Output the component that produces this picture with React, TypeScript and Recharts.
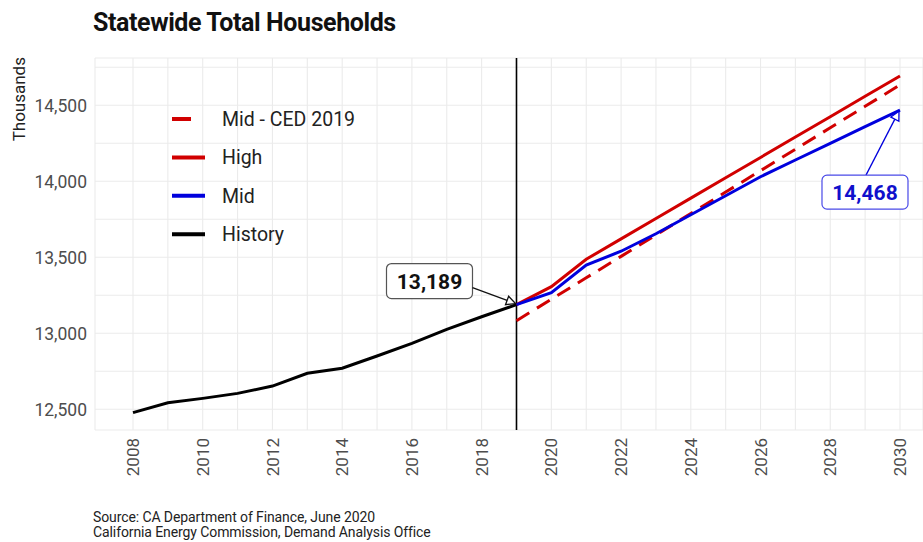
import React from 'react';
import { LineChart, Line, XAxis, YAxis, CartesianGrid, ReferenceLine, ReferenceDot, Legend } from 'recharts';

// ---- data ----
const years = [2008, 2009, 2010, 2011, 2012, 2013, 2014, 2015, 2016, 2017, 2018, 2019, 2020, 2021, 2022, 2023, 2024, 2025, 2026, 2027, 2028, 2029, 2030];
const historyYears = [2008, 2009, 2010, 2011, 2012, 2013, 2014, 2015, 2016, 2017, 2018, 2019];
const historyValues = [12478, 12543, 12572, 12605, 12653, 12737, 12770, 12851, 12934, 13026, 13109, 13189];
const forecastYears = [2019, 2020, 2021, 2022, 2023, 2024, 2025, 2026, 2027, 2028, 2029, 2030];
const highValues = [13189, 13307, 13487, 13621, 13755, 13889, 14023, 14157, 14291, 14425, 14559, 14693];
const midValues = [13189, 13267, 13449, 13540, 13655, 13780, 13905, 14030, 14140, 14250, 14360, 14468];
const ced2019Values = [13083, 13224, 13365, 13506, 13647, 13788, 13929, 14070, 14211, 14352, 14493, 14634];
const yTicks = [12500, 12750, 13000, 13250, 13500, 13750, 14000, 14250, 14500, 14750];
const forecastStartYear = 2019;

const seriesNames = { ced: 'Mid - CED 2019', high: 'High', mid: 'Mid', history: 'History' };
const legendOrder = ['Mid - CED 2019', 'High', 'Mid', 'History'];

const RED = '#d10000';
const BLUE = '#0000dd';
const FONT = 'Roboto, sans-serif';

const data = years.map((yr) => {
  const hi = historyYears.indexOf(yr);
  const fi = forecastYears.indexOf(yr);
  return {
    year: yr,
    history: hi >= 0 ? historyValues[hi] : null,
    high: fi >= 0 ? highValues[fi] : null,
    mid: fi >= 0 ? midValues[fi] : null,
    ced: fi >= 0 ? ced2019Values[fi] : null,
  };
});

const fmt = (v: number) => v.toLocaleString('en-US');

const XTick = (props: any) => {
  const { x, y, payload } = props;
  if (payload.value % 2 !== 0) return <g />;
  return (
    <text x={x} y={y} dy="0.36em" textAnchor="end" transform={`rotate(-90, ${x}, ${y})`}
      fontFamily={FONT} fontSize={17} fill="#4d4d4d">{payload.value}</text>
  );
};

const YTick = (props: any) => {
  const { x, y, payload } = props;
  if (payload.value % 500 !== 0) return <g />;
  return (
    <text x={x} y={y} dy="0.36em" textAnchor="end" fontFamily={FONT} fontSize={17.5} fill="#4d4d4d">{fmt(payload.value)}</text>
  );
};

const arrowHead = (x1: number, y1: number, x2: number, y2: number, L = 9, W = 4.5) => {
  const dx = x2 - x1, dy = y2 - y1;
  const len = Math.hypot(dx, dy);
  const ux = dx / len, uy = dy / len;
  const bx = x2 - ux * L, by = y2 - uy * L;
  return { pts: `${x2},${y2} ${bx - uy * W},${by + ux * W} ${bx + uy * W},${by - ux * W}`, bx, by };
};

const HistLabel = (props: any) => {
  const { cx, cy } = props;
  const sx = cx - 44, sy = cy - 17;
  const tx = cx - 1, ty = cy - 1;
  const a = arrowHead(sx, sy, tx, ty);
  return (
    <g>
      <rect x={cx - 130} y={cy - 41} width={86} height={35} rx={5} fill="#fff" stroke="#555" strokeWidth={1.2} />
      <text x={cx - 87} y={cy - 23.5} dy="0.36em" textAnchor="middle" fontFamily={FONT} fontWeight={700} fontSize={21} fill="#111">
        {fmt(historyValues[historyValues.length - 1])}
      </text>
      <line x1={sx} y1={sy} x2={a.bx} y2={a.by} stroke="#111" strokeWidth={1.3} />
      <polygon points={a.pts} fill="#fff" stroke="#111" strokeWidth={1.3} />
    </g>
  );
};

const MidLabel = (props: any) => {
  const { cx, cy } = props;
  const sx = cx - 34, sy = cy + 65;
  const tx = cx - 1, ty = cy + 1;
  const a = arrowHead(sx, sy, tx, ty);
  return (
    <g>
      <line x1={sx} y1={sy} x2={a.bx} y2={a.by} stroke={BLUE} strokeWidth={1.3} />
      <polygon points={a.pts} fill="#fff" stroke={BLUE} strokeWidth={1.3} />
      <rect x={cx - 78} y={cy + 65} width={86} height={34} rx={5} fill="#fff" stroke="#4a4ae8" strokeWidth={1.2} />
      <text x={cx - 35} y={cy + 82} dy="0.36em" textAnchor="middle" fontFamily={FONT} fontWeight={700} fontSize={21} fill="#1010cc">
        {fmt(midValues[midValues.length - 1])}
      </text>
    </g>
  );
};

const renderLegend = (props: any) => {
  const payload = props.payload || [];
  const items = legendOrder.map((n) => payload.find((p: any) => p.value === n)).filter(Boolean);
  return (
    <svg width={260} height={170}>
      {items.map((it: any, i: number) => {
        const y = 24 + i * 38.4;
        const dashed = it.value === seriesNames.ced;
        return (
          <g key={it.value}>
            <line x1={12} x2={45} y1={y} y2={y} stroke={it.color} strokeWidth={4}
              strokeDasharray={dashed ? '19 20' : undefined} />
            <text x={62} y={y} dy="0.36em" fontFamily={FONT} fontSize={19.5} fill="#222">{it.value}</text>
          </g>
        );
      })}
    </svg>
  );
};

export default function App() {
  return (
    <div style={{ position: 'absolute', left: 0, top: 0, width: 923, height: 542, background: '#fff', overflow: 'hidden' }}>
      <LineChart width={923} height={542} data={data} margin={{ top: 58, right: 0, bottom: 82, left: 35 }}>
        <CartesianGrid stroke="#ebebeb" strokeWidth={1.1} />
        <XAxis dataKey="year" type="number" domain={[2006.91, 2030.66]} allowDataOverflow ticks={years} interval={0}
          axisLine={false} tickLine={false} height={30} tick={<XTick />} />
        <YAxis type="number" domain={[12364, 14811]} allowDataOverflow ticks={yTicks} interval={0}
          axisLine={false} tickLine={false} width={60} tick={<YTick />} />
        <ReferenceLine x={forecastStartYear} stroke="#000" strokeWidth={1.6} />
        <Line dataKey="history" name={seriesNames.history} stroke="#000" strokeWidth={3} dot={false} isAnimationActive={false} />
        <Line dataKey="ced" name={seriesNames.ced} stroke={RED} strokeWidth={3} strokeDasharray="15 9" dot={false} isAnimationActive={false} />
        <Line dataKey="high" name={seriesNames.high} stroke={RED} strokeWidth={3} dot={false} isAnimationActive={false} />
        <Line dataKey="mid" name={seriesNames.mid} stroke={BLUE} strokeWidth={3} dot={false} isAnimationActive={false} />
        <ReferenceDot x={historyYears[historyYears.length - 1]} y={historyValues[historyValues.length - 1]} r={0}
          ifOverflow="visible" shape={<HistLabel />} />
        <ReferenceDot x={forecastYears[forecastYears.length - 1]} y={midValues[midValues.length - 1]} r={0}
          ifOverflow="visible" shape={<MidLabel />} />
        <Legend layout="vertical" align="center" verticalAlign="middle" content={renderLegend}
          wrapperStyle={{ left: 160, top: 95, width: 260, height: 170 }} />
      </LineChart>
      <svg width={923} height={542} style={{ position: 'absolute', left: 0, top: 0, pointerEvents: 'none' }}>
        <text x={93} y={31} fontFamily={FONT} fontWeight={700} fontSize={25} letterSpacing={-0.4} fill="#111">Statewide Total Households</text>
        <text x={25} y={57} textAnchor="end" transform="rotate(-90, 25, 57)" fontFamily={FONT} fontSize={17} fill="#222">Thousands</text>
        <text x={93} y={522} fontFamily={FONT} fontSize={14} letterSpacing={-0.1} fill="#222">Source: CA Department of Finance, June 2020</text>
        <text x={93} y={536.5} fontFamily={FONT} fontSize={14} letterSpacing={-0.1} fill="#222">California Energy Commission, Demand Analysis Office</text>
      </svg>
    </div>
  );
}
